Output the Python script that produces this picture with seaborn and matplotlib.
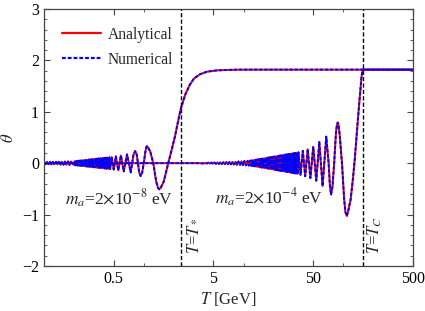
import numpy as np
import pandas as pd
import matplotlib
matplotlib.use("Agg")
import matplotlib.pyplot as plt
from matplotlib.lines import Line2D
import seaborn as sns

# ---------------- data ----------------
# curve for m_a = 2e-8 eV
T1 = [0.100, 0.104, 0.107, 0.111, 0.115, 0.119, 0.123, 0.127, 0.132, 0.136,
      0.141, 0.146, 0.151, 0.157, 0.162, 0.168, 0.174, 0.180, 0.186,
      0.200, 0.204, 0.208, 0.212, 0.2165, 0.221, 0.225, 0.230, 0.234, 0.239,
      0.244, 0.249, 0.254, 0.259, 0.264, 0.269, 0.275, 0.280, 0.286, 0.291,
      0.297, 0.303, 0.309, 0.315, 0.322, 0.328, 0.335, 0.341, 0.348, 0.355,
      0.362, 0.370, 0.377, 0.385, 0.392, 0.400, 0.408, 0.416, 0.425, 0.433,
      0.442, 0.451, 0.460,
      0.477, 0.500, 0.525, 0.555, 0.590, 0.630, 0.680, 0.740, 0.790, 0.820,
      0.850, 0.875, 0.900, 0.930, 0.965, 1.000, 1.040, 1.060, 1.080, 1.100,
      1.160, 1.245, 1.333, 1.390, 1.430, 1.480, 1.585, 1.760, 1.900, 2.060,
      2.200, 2.360, 2.600, 2.900, 3.200, 3.660, 4.300, 5.370, 7.000, 9.200,
      500.0]
theta1 = [0.020, -0.020, 0.021, -0.021, 0.022, -0.022, 0.023, -0.024, 0.025, -0.025,
          0.026, -0.027, 0.028, -0.029, 0.030, -0.031, 0.032, -0.033, 0.034,
          -0.038, 0.040, -0.042, 0.043, -0.045, 0.047, -0.049, 0.051, -0.053, 0.054,
          -0.056, 0.058, -0.060, 0.062, -0.064, 0.065, -0.067, 0.069, -0.071, 0.073,
          -0.075, 0.076, -0.078, 0.080, -0.082, 0.084, -0.086, 0.087, -0.089, 0.091,
          -0.093, 0.095, -0.097, 0.098, -0.100, 0.102, -0.104, 0.106, -0.108, 0.109,
          -0.111, 0.113, -0.115,
          0.120, -0.125, 0.130, -0.140, 0.150, -0.160, 0.170, -0.180, 0.170, 0.235,
          0.170, 0.000, -0.180, -0.250, -0.180, 0.000, 0.230, 0.310, 0.330, 0.310,
          0.230, 0.000, -0.360, -0.480, -0.510, -0.480, -0.360, 0.000, 0.250, 0.530,
          0.800, 1.070, 1.330, 1.530, 1.650, 1.730, 1.780, 1.805, 1.815, 1.820,
          1.820]

# curve for m_a = 2e-4 eV
T2 = [0.100, 3.50,
      4.00, 4.14, 4.29, 4.44, 4.60, 4.76, 4.93, 5.10, 5.28, 5.47,
      5.67, 5.87, 6.07, 6.29, 6.51, 6.74, 6.98, 7.23, 7.48, 7.75,
      8.02, 8.31, 8.60, 8.90, 9.22, 9.54, 9.88, 10.2, 10.6, 11.0,
      11.3, 11.7,
      11.96, 12.20, 12.44, 12.69, 12.95, 13.20, 13.47, 13.74, 14.01, 14.29,
      14.58, 14.87, 15.17, 15.47, 15.78, 16.10, 16.42, 16.75, 17.08, 17.42,
      17.77, 18.13, 18.49, 18.86, 19.24, 19.62, 20.02, 20.42, 20.82, 21.24,
      21.66, 22.10, 22.54, 22.99, 23.45, 23.92, 24.40, 24.89, 25.38, 25.89,
      26.41, 26.94, 27.48, 28.03, 28.59, 29.16, 29.74, 30.34, 30.94, 31.56,
      32.19, 32.84, 33.50, 34.17, 34.85, 35.55,
      37.3, 39.3, 41.5, 44.0, 46.8, 50.0, 53.6, 57.5, 62.0, 67.5,
      71.3, 73.5, 75.5, 78.0, 81.0, 84.5, 86.3, 88.0, 89.8, 92.0,
      97.0, 102.0, 105.0, 108.5, 113.0, 118.6, 125.0, 130.0, 141.0, 152.4,
      157.0, 500.0]
theta2 = [0.000, 0.000,
          -0.005, 0.006, -0.007, 0.008, -0.009, 0.010, -0.011, 0.012, -0.013, 0.014,
          -0.015, 0.016, -0.017, 0.018, -0.019, 0.020, -0.021, 0.022, -0.023, 0.024,
          -0.025, 0.027, -0.030, 0.032, -0.034, 0.036, -0.039, 0.041, -0.043, 0.045,
          -0.048, 0.050,
          -0.052, 0.055, -0.058, 0.060, -0.063, 0.066, -0.069, 0.072, -0.075, 0.078,
          -0.081, 0.083, -0.086, 0.089, -0.092, 0.095, -0.098, 0.101, -0.104, 0.107,
          -0.109, 0.112, -0.115, 0.118, -0.121, 0.124, -0.127, 0.130, -0.132, 0.135,
          -0.138, 0.141, -0.144, 0.147, -0.150, 0.153, -0.155, 0.158, -0.161, 0.164,
          -0.167, 0.170, -0.173, 0.176, -0.178, 0.181, -0.184, 0.187, -0.190, 0.193,
          -0.196, 0.199, -0.201, 0.204, -0.207, 0.210,
          -0.225, 0.240, -0.255, 0.270, -0.290, 0.320, -0.340, 0.410, -0.445, 0.515,
          0.000, -0.450, -0.610, -0.450, 0.000, 0.600, 0.740, 0.790, 0.740, 0.550,
          0.000, -0.700, -0.950, -1.030, -0.900, -0.700, -0.300, 0.050, 0.920, 1.690,
          1.820, 1.820]

assert len(T1) == len(theta1) and len(T2) == len(theta2)

methods = ["Analytical", "Numerical"]
T_star = 2.36
T_C = 157.0
xticks_major = [0.5, 5, 50, 500]
xtick_labels = ["0.5", "5", "50", "500"]
xticks_minor = [1, 10, 100]
yticks = [-2, -1, 0, 1, 2, 3]
ytick_labels = ["\u22122", "\u22121", "0", "1", "2", "3"]

rows = []
for m in methods:
    for cname, TT, th in (("a", T1, theta1), ("b", T2, theta2)):
        for t, v in zip(TT, th):
            rows.append({"T": t, "theta": v, "method": m, "curve": cname})
df = pd.DataFrame(rows)

# ---------------- style ----------------
sns.set_style("ticks")
plt.rcParams["font.family"] = ["Liberation Serif", "DejaVu Serif"]
plt.rcParams["mathtext.fontset"] = "stix"
plt.rcParams["axes.edgecolor"] = "#444444"
plt.rcParams["xtick.color"] = "#444444"
plt.rcParams["ytick.color"] = "#444444"
plt.rcParams["xtick.labelcolor"] = "black"
plt.rcParams["ytick.labelcolor"] = "black"

fig = plt.figure(figsize=(4.25, 3.11), dpi=100)
ax = fig.add_axes([0.1035, 0.145, 0.8683, 0.826])

sns.lineplot(data=df, x="T", y="theta", hue="method", style="method",
             units="curve", estimator=None, sort=False,
             palette={"Analytical": "red", "Numerical": "blue"},
             dashes={"Analytical": "", "Numerical": (1.7, 0.9)},
             hue_order=methods, style_order=methods,
             linewidth=1.4, ax=ax, legend=False)

ax.set_xscale("log")
ax.set_xlim(0.1, 500)
ax.set_ylim(-2, 3)

for tv in (T_star, T_C):
    ax.axvline(tv, color="black", lw=1.0, ls=(0, (3.0, 1.6)), zorder=5)

ax.set_xticks(xticks_major)
ax.set_xticklabels(xtick_labels)
ax.set_xticks(xticks_minor, minor=True)
ax.set_xticklabels([], minor=True)
ax.set_yticks(yticks)
ax.set_yticklabels(ytick_labels)
ax.set_yticks(np.arange(-2, 3.01, 0.2), minor=True)
ax.tick_params(which="both", direction="in", top=True, right=True, labelsize=11.5)
ax.tick_params(which="major", length=4.5, width=0.8)
ax.tick_params(which="minor", length=2.5, width=0.6)
for s in ax.spines.values():
    s.set_linewidth(0.9)

ax.set_xlabel("$T$ [GeV]", fontsize=12, labelpad=2)
ax.set_ylabel(r"$\theta$", fontsize=12, labelpad=4)

ax.text(0.162, -0.70, r"$m_a$=2$\times$10$^{-8}$ eV", fontsize=12.5, va="center", ha="left")
ax.text(5.16, -0.68, r"$m_a$=2$\times$10$^{-4}$ eV", fontsize=12.5, va="center", ha="left")
ax.text(3.1, -1.41, r"$T$=$T_*$", fontsize=12, rotation=90, va="center", ha="center")
ax.text(207, -1.40, r"$T$=$T_C$", fontsize=12, rotation=90, va="center", ha="center")

handles = [Line2D([], [], color="red", lw=1.6),
           Line2D([], [], color="blue", lw=1.6, ls=(0, (1.7, 0.9)))]
ax.legend(handles, methods, loc="upper left", bbox_to_anchor=(0.01, 0.985),
          frameon=False, fontsize=11.2, handlelength=2.5, labelspacing=0.58,
          handletextpad=0.45)

fig.savefig("out.png", dpi=100)
